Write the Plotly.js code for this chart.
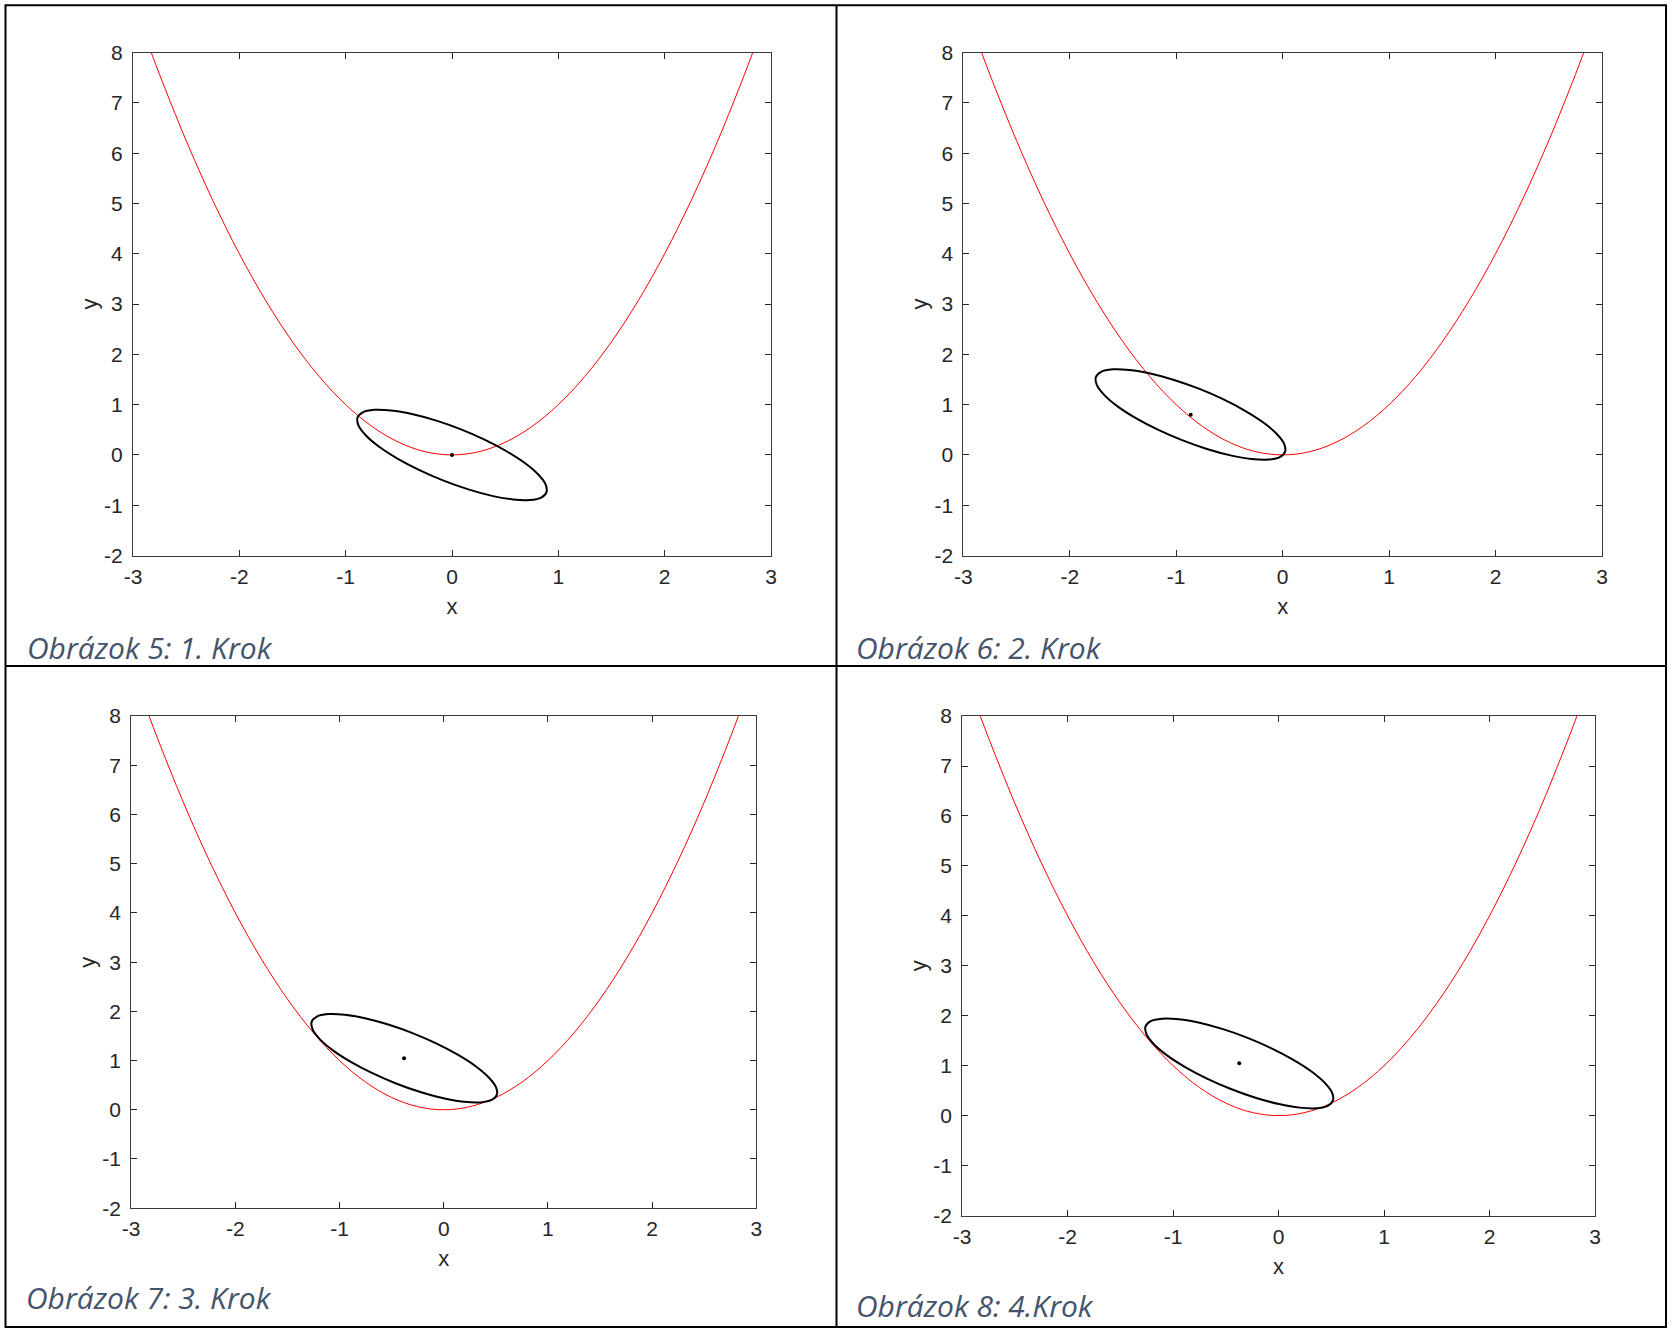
<!DOCTYPE html>
<html>
<head>
<meta charset="utf-8">
<script src="https://cdn.plot.ly/plotly-3.0.1.min.js"></script>
<style>html,body{margin:0;padding:0;background:#fff;}#chart{width:1673px;height:1333px;}</style>
</head>
<body>
<div id="chart"></div>
<script>
// ---- data ----
const captions = ["Obrázok 5: 1. Krok", "Obrázok 6: 2. Krok", "Obrázok 7: 3. Krok", "Obrázok 8: 4.Krok"];
const xLabel = "x";
const yLabel = "y";
const xTicks = [-3, -2, -1, 0, 1, 2, 3];
const yTicks = [-2, -1, 0, 1, 2, 3, 4, 5, 6, 7, 8];

const parabolaX = [-2.828, -2.75, -2.5, -2.25, -2, -1.75, -1.5, -1.25, -1, -0.75, -0.5, -0.25, 0, 0.25, 0.5, 0.75, 1, 1.25, 1.5, 1.75, 2, 2.25, 2.5, 2.75, 2.828];
const parabolaY = [8, 7.5625, 6.25, 5.0625, 4, 3.0625, 2.25, 1.5625, 1, 0.5625, 0.25, 0.0625, 0, 0.0625, 0.25, 0.5625, 1, 1.5625, 2.25, 3.0625, 4, 5.0625, 6.25, 7.5625, 8];

const ellipse1X = [0.839, 0.889, 0.879, 0.809, 0.685, 0.513, 0.306, 0.079, -0.154, -0.377, -0.573, -0.731, -0.839, -0.889, -0.879, -0.809, -0.685, -0.513, -0.306, -0.079, 0.154, 0.377, 0.573, 0.731, 0.839];
const ellipse1Y = [-0.848, -0.740, -0.582, -0.385, -0.161, 0.073, 0.303, 0.512, 0.686, 0.814, 0.885, 0.897, 0.848, 0.740, 0.582, 0.385, 0.161, -0.073, -0.303, -0.512, -0.686, -0.814, -0.885, -0.897, -0.848];

const ellipse2X = [-0.027, 0.023, 0.013, -0.057, -0.181, -0.353, -0.560, -0.787, -1.020, -1.243, -1.439, -1.597, -1.705, -1.755, -1.745, -1.675, -1.551, -1.379, -1.172, -0.945, -0.712, -0.489, -0.293, -0.135, -0.027];
const ellipse2Y = [-0.043, 0.065, 0.223, 0.420, 0.644, 0.878, 1.108, 1.317, 1.491, 1.619, 1.690, 1.702, 1.653, 1.545, 1.387, 1.190, 0.966, 0.732, 0.502, 0.293, 0.119, -0.009, -0.080, -0.092, -0.043];

const ellipse3X = [0.460, 0.510, 0.500, 0.430, 0.306, 0.134, -0.073, -0.300, -0.533, -0.756, -0.952, -1.110, -1.218, -1.268, -1.258, -1.188, -1.064, -0.892, -0.685, -0.458, -0.225, -0.002, 0.194, 0.352, 0.460];
const ellipse3Y = [0.199, 0.307, 0.465, 0.662, 0.886, 1.120, 1.350, 1.559, 1.733, 1.861, 1.932, 1.944, 1.895, 1.787, 1.629, 1.432, 1.208, 0.974, 0.744, 0.535, 0.361, 0.233, 0.162, 0.150, 0.199];

const ellipse4X = [0.466, 0.516, 0.506, 0.436, 0.312, 0.140, -0.067, -0.294, -0.527, -0.750, -0.946, -1.104, -1.212, -1.262, -1.252, -1.182, -1.058, -0.886, -0.679, -0.452, -0.219, 0.004, 0.200, 0.358, 0.466];
const ellipse4Y = [0.197, 0.305, 0.463, 0.660, 0.884, 1.118, 1.348, 1.557, 1.731, 1.859, 1.930, 1.942, 1.893, 1.785, 1.627, 1.430, 1.206, 0.972, 0.742, 0.533, 0.359, 0.231, 0.160, 0.148, 0.197];

const centerX = [0, -0.864, -0.381, -0.373];
const centerY = [0, 0.80, 1.046, 1.048];

// ---- layout geometry (pixels in the 1673x1333 page) ----
const W = 1673, H = 1333;
const panels = [
  {l: 133, r: 771, t: 52.6, b: 555.5, capX: 25, capY: 647},
  {l: 963.3, r: 1602, t: 52.6, b: 555.5, capX: 854, capY: 647},
  {l: 131.2, r: 756.3, t: 716.1, b: 1208.2, capX: 24, capY: 1297},
  {l: 962.2, r: 1595, t: 716.1, b: 1215.5, capX: 854, capY: 1305}
];
const ellipsesX = [ellipse1X, ellipse2X, ellipse3X, ellipse4X];
const ellipsesY = [ellipse1Y, ellipse2Y, ellipse3Y, ellipse4Y];

const tickFont = {family: 'Liberation Sans, Arial, sans-serif', size: 21, color: '#262626'};
const titleFont = {family: 'Liberation Sans, Arial, sans-serif', size: 22, color: '#262626'};

const data = [];
const layout = {
  width: W, height: H,
  margin: {l: 0, r: 0, t: 0, b: 0},
  paper_bgcolor: '#ffffff', plot_bgcolor: '#ffffff',
  showlegend: false, hovermode: false,
  annotations: [], shapes: []
};

panels.forEach((p, i) => {
  const n = i + 1;
  const xa = 'x' + (n === 1 ? '' : n), ya = 'y' + (n === 1 ? '' : n);
  const common = {
    ticks: 'inside', ticklen: 6, tickwidth: 1, tickcolor: '#262626',
    mirror: 'ticks', showline: true, linecolor: '#3a3a3a', linewidth: 1,
    showgrid: false, zeroline: false, tickfont: tickFont, fixedrange: true,
    tickmode: 'array'
  };
  layout['xaxis' + (n === 1 ? '' : n)] = Object.assign({}, common, {
    domain: [p.l / W, p.r / W], range: [-3, 3], anchor: ya,
    tickvals: xTicks, ticktext: xTicks.map(String), ticklabelstandoff: 2,
    title: {text: xLabel, font: titleFont, standoff: 11}
  });
  layout['yaxis' + (n === 1 ? '' : n)] = Object.assign({}, common, {
    domain: [1 - p.b / H, 1 - p.t / H], range: [-2, 8], anchor: xa,
    tickvals: yTicks, ticktext: yTicks.map(String), ticklabelstandoff: 5,
    title: {text: yLabel, font: titleFont, standoff: 0}
  });
  data.push({type: 'scatter', mode: 'lines', x: parabolaX, y: parabolaY, xaxis: xa, yaxis: ya,
    line: {color: '#ff0000', width: 1, shape: 'spline', smoothing: 1}});
  data.push({type: 'scatter', mode: 'lines', x: ellipsesX[i], y: ellipsesY[i], xaxis: xa, yaxis: ya,
    line: {color: '#000000', width: 2, shape: 'spline', smoothing: 1}});
  data.push({type: 'scatter', mode: 'markers', x: [centerX[i]], y: [centerY[i]], xaxis: xa, yaxis: ya,
    marker: {color: '#000000', size: 4}});
  layout.annotations.push({
    xref: 'paper', yref: 'paper', x: p.capX / W, y: 1 - p.capY / H,
    xanchor: 'left', yanchor: 'middle', showarrow: false, text: '<i>' + captions[i] + '</i>',
    font: {family: 'Open Sans, Noto Sans, sans-serif', size: 30, color: '#44546A'}
  });
});

// table frame
const lineStyle = {color: '#000000', width: 2};
const fx = v => v / W, fy = v => 1 - v / H;
layout.shapes.push({type: 'rect', xref: 'paper', yref: 'paper', x0: fx(5.5), x1: fx(1666), y0: fy(1327), y1: fy(5.2), line: lineStyle});
layout.shapes.push({type: 'line', xref: 'paper', yref: 'paper', x0: fx(836.5), x1: fx(836.5), y0: fy(1327), y1: fy(5.2), line: lineStyle});
layout.shapes.push({type: 'line', xref: 'paper', yref: 'paper', x0: fx(5.5), x1: fx(1666), y0: fy(666), y1: fy(666), line: lineStyle});

Plotly.newPlot('chart', data, layout, {displayModeBar: false, staticPlot: true});
</script>
</body>
</html>
